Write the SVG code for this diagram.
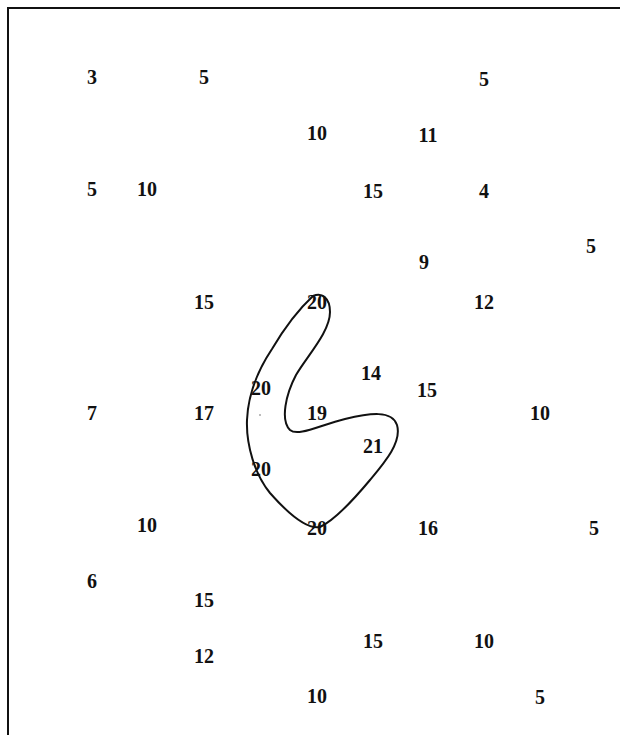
<svg xmlns="http://www.w3.org/2000/svg" width="620" height="735" viewBox="0 0 620 735">
<style>
text{font-family:"Liberation Serif","DejaVu Serif",serif;font-size:20px;font-weight:bold;text-anchor:middle;dominant-baseline:central;fill:#111}
.frame{stroke:#111;stroke-width:2;fill:none}
.curve{stroke:#111;stroke-width:2;fill:none}
</style>
<rect width="620" height="735" fill="#fff"/>
<g id="frame"><path class="frame" d="M8,735 L8,8 L620,8"/></g>
<g id="contour"><path class="curve" d="M313,296 C322,292 330,298 330,312 C330,332 307,356 296,375 C286,394 280,420 290,430 C298,437 320,425 345,419 C370,413 392,410 397,425 C402,442 385,462 370,480 C355,498 335,520 320,527 C305,530 285,510 270,493 C255,475 246,445 247,420 C248,395 258,370 272,349 C285,327 300,308 313,296 Z"/>
<circle cx="260" cy="415" r="0.8" fill="#666"/></g>
<g id="values">
<text x="92" y="77">3</text>
<text x="204" y="77">5</text>
<text x="484" y="79">5</text>
<text x="317" y="133">10</text>
<text x="428" y="135">11</text>
<text x="92" y="189">5</text>
<text x="147" y="189">10</text>
<text x="373" y="191">15</text>
<text x="484" y="191">4</text>
<text x="591" y="246">5</text>
<text x="424" y="262">9</text>
<text x="204" y="302">15</text>
<text x="317" y="302">20</text>
<text x="484" y="302">12</text>
<text x="371" y="373">14</text>
<text x="261" y="388">20</text>
<text x="427" y="390">15</text>
<text x="92" y="413">7</text>
<text x="204" y="413">17</text>
<text x="317" y="413">19</text>
<text x="540" y="413">10</text>
<text x="373" y="446">21</text>
<text x="261" y="469">20</text>
<text x="147" y="525">10</text>
<text x="317" y="528">20</text>
<text x="428" y="528">16</text>
<text x="594" y="528">5</text>
<text x="92" y="581">6</text>
<text x="204" y="600">15</text>
<text x="373" y="641">15</text>
<text x="484" y="641">10</text>
<text x="204" y="656">12</text>
<text x="317" y="696">10</text>
<text x="540" y="697">5</text>
</g>
</svg>
